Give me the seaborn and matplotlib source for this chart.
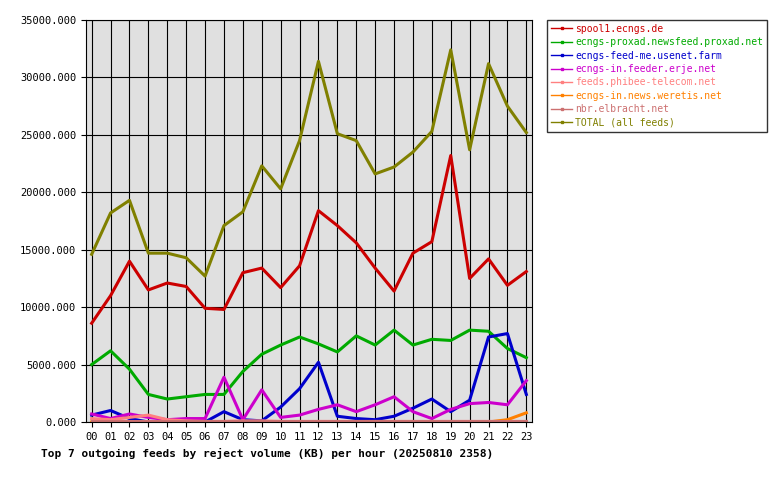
import matplotlib
matplotlib.use("Agg")
import matplotlib.pyplot as plt
import seaborn as sns
import pandas as pd

hours = [f"{h:02d}" for h in range(24)]
spool1 = [8600,11000,14000,11500,12100,11800,9900,9800,13000,13400,11700,13600,18400,17100,15600,13400,11400,14700,15700,23200,12500,14200,11900,13100]
proxad = [5000,6200,4600,2400,2000,2200,2400,2400,4400,5900,6700,7400,6800,6100,7500,6700,8000,6700,7200,7100,8000,7900,6400,5600]
usenet = [600,1000,300,0,0,0,0,900,200,100,1300,2900,5200,500,300,200,500,1200,2000,900,1900,7400,7700,2400]
erje = [700,300,700,400,200,300,300,3900,200,2800,400,600,1100,1500,900,1500,2200,900,300,1100,1600,1700,1500,3600]
phibee = [300,200,400,600,200,100,50,50,100,100,50,50,50,50,50,50,50,50,50,50,50,50,50,50]
weretis = [0,0,0,0,0,0,0,0,0,0,0,0,0,0,0,0,0,0,0,0,0,0,200,800]
elbracht = [100]*24
total = [14600,18200,19300,14700,14700,14300,12700,17100,18300,22300,20300,24500,31400,25100,24500,21600,22200,23500,25300,32400,23700,31200,27500,25200]

series = [("spool1.ecngs.de", spool1, "#cc0000"),
          ("ecngs-proxad.newsfeed.proxad.net", proxad, "#00aa00"),
          ("ecngs-feed-me.usenet.farm", usenet, "#0000cc"),
          ("ecngs-in.feeder.erje.net", erje, "#cc00cc"),
          ("feeds.phibee-telecom.net", phibee, "#ff8080"),
          ("ecngs-in.news.weretis.net", weretis, "#ff8000"),
          ("nbr.elbracht.net", elbracht, "#cc7070"),
          ("TOTAL (all feeds)", total, "#808000")]

rows = []
for name, vals, _ in series:
    for i, v in enumerate(vals):
        rows.append({"hour": i, "feed": name, "val": v})
df = pd.DataFrame(rows)
pal = {n: c for n, _, c in series}
order = [n for n, _, _ in series]

plt.rcParams["font.family"] = "DejaVu Sans Mono"
fig = plt.figure(figsize=(7.8, 4.8), dpi=100)
ax = fig.add_axes([86/780, 58/480, 446/780, 402/480])
ax.set_facecolor("#e0e0e0")
sns.lineplot(data=df, x="hour", y="val", hue="feed", hue_order=order, palette=pal,
             linewidth=2.2, ax=ax, legend=False)
ax.set_xlim(-0.3, 23.3)
ax.set_ylim(0, 35000)
ax.set_xticks(range(24))
ax.set_xticklabels(hours, fontsize=7.5)
ax.set_yticks(range(0, 35001, 5000))
ax.set_yticklabels([f"{v}.000" for v in range(0, 35001, 5000)], fontsize=7.5)
ax.grid(True, color="black", linewidth=0.8)
ax.set_axisbelow(True)
ax.set_xlabel("Top 7 outgoing feeds by reject volume (KB) per hour (20250810 2358)",
              fontsize=8, fontweight="bold", labelpad=4)
ax.xaxis.set_label_coords(-0.1, -0.065)
ax.xaxis.label.set_horizontalalignment("left")
ax.set_ylabel("")
for s in ax.spines.values():
    s.set_color("black")

handles = [plt.Line2D([0], [0], color=c, lw=1, marker="s", markersize=2) for _, _, c in series]
leg = fig.legend(handles, order, loc="upper left", bbox_to_anchor=(547/780, 1 - 20/480),
                 fontsize=7, frameon=True, fancybox=False, edgecolor="black",
                 handlelength=2.2, handletextpad=0.3, borderpad=0.4, labelspacing=0.35,
                 borderaxespad=0)
for t, (_, _, c) in zip(leg.get_texts(), series):
    t.set_color(c)
fig.savefig("out.png", dpi=100, facecolor="white")
